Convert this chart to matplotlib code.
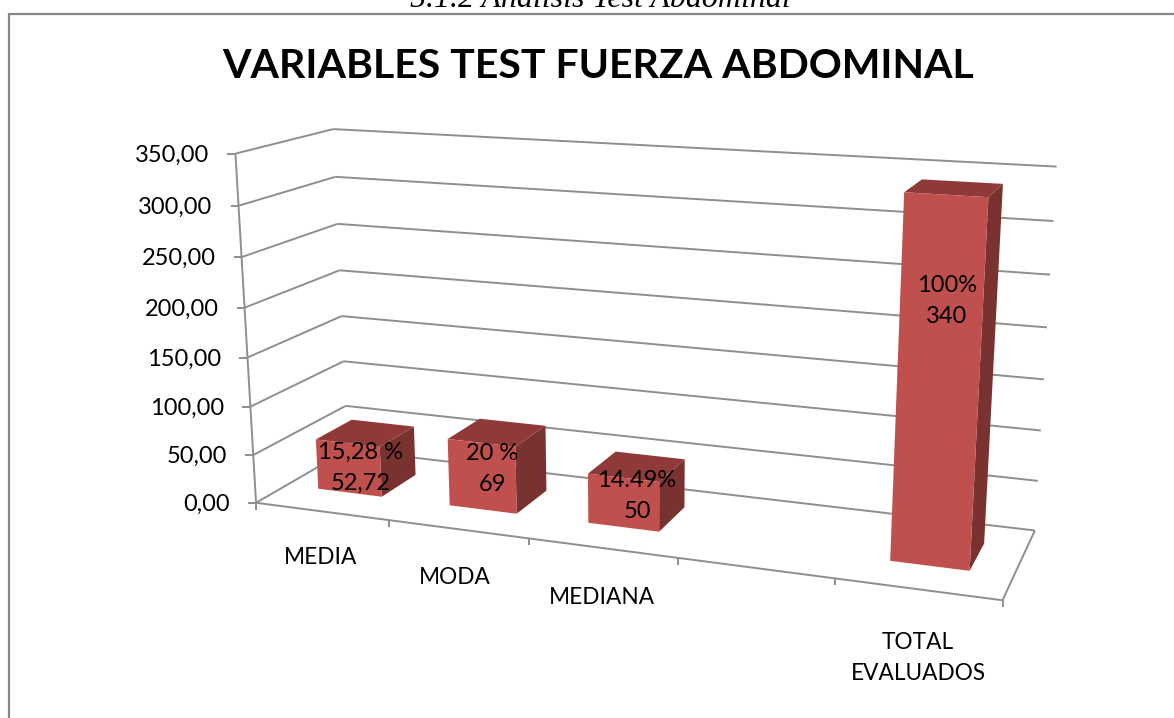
"""Perspective 3D column chart drawn on a pixel-sized 2D axes."""

import matplotlib

matplotlib.use("Agg")
import matplotlib.pyplot as plt
import numpy as np
from matplotlib.patches import Polygon, Rectangle

categories = ["MEDIA", "MODA", "MEDIANA", "", "TOTAL\nEVALUADOS"]
values = [52.72, 69, 50, None, 340]
bar_labels = ["15,28 %\n52,72", "20 %\n69", "14.49%\n50", None, "100%\n340"]
y_ticks = [0, 50, 100, 150, 200, 250, 300, 350]

W, H = 1174, 718
Y_MAX = 350.0
N_CAT = len(categories)

# camera calibration: box corners (x, y, depth in 0..1) -> picture pixels
BOX = [(0, 0, 0), (0, 1, 0), (0, 1, 1), (0, 0, 1), (1, 0, 0), (1, 0, 1), (1, 1, 1)]
PIX = [(256, 502.7), (235.7, 153.3), (333, 129.3), (347.7, 450),
       (1002.3, 600.7), (1035, 530), (1056.7, 166.7)]


def fit_camera(box, pix):
    rows = []
    for (x, y, d), (u, v) in zip(box, pix):
        rows.append([x, y, d, 1, 0, 0, 0, 0, -u * x, -u * y, -u * d, -u])
        rows.append([0, 0, 0, 0, x, y, d, 1, -v * x, -v * y, -v * d, -v])
    return np.linalg.svd(np.array(rows, float))[2][-1].reshape(3, 4)


CAM = fit_camera(BOX, PIX)


def project(cat, value, depth):
    """Category position (0..N_CAT), data value and depth (0..1) to pixels."""
    p = CAM @ np.array([cat / N_CAT, value / Y_MAX, depth, 1.0])
    return p[0] / p[2], p[1] / p[2]


BAR_MID = 0.49
BAR_HALF = 0.245
BAR_D0, BAR_D1 = 0.32, 0.72
GRID = "#8e8e8e"
FRONT, TOP, SIDE = "#C0504D", "#8F3A38", "#7A3230"

plt.rcParams["font.family"] = ["Lato", "DejaVu Sans"]
fig = plt.figure(figsize=(W / 100, H / 100), dpi=100)
ax = fig.add_axes([0, 0, 1, 1])
ax.set_xlim(0, W)
ax.set_ylim(H, 0)
ax.axis("off")

# frame runs off the right and bottom of the picture
ax.add_patch(Rectangle((8.5, 13.5), 1200, 720, fc="white", ec="#868686", lw=1.6, clip_on=True))
ax.text(600, 7, "5.1.2 Análisis Test Abdominal", family="Liberation Serif", style="italic",
        fontsize=23, ha="center", va="baseline", clip_on=True)
ax.text(598, 66, "VARIABLES TEST FUERZA ABDOMINAL", fontsize=29.5, fontweight="bold",
        ha="center", va="center")


def seg(a, b):
    ax.plot(*zip(a, b), color=GRID, lw=1.4, solid_capstyle="butt", zorder=2)


# walls, gridlines and y ticks
for t in y_ticks:
    front = project(0, t, 0)
    back = project(0, t, 1)
    seg(front, back)
    seg(back, project(N_CAT, t, 1))
    seg((front[0] - 8, front[1]), front)
    ax.text(front[0] - 26, front[1] + 1.5, f"{t:.2f}".replace(".", ","), fontsize=17,
            ha="right", va="center")
seg(project(0, 0, 0), project(0, Y_MAX, 0))

# floor and category ticks
seg(project(0, 0, 0), project(N_CAT, 0, 0))
seg(project(N_CAT, 0, 0), project(N_CAT, 0, 1))
for i in range(N_CAT + 1):
    u, v = project(i, 0, 0)
    seg((u, v), (u, v + 7))

label_xy = [(321, 558), (455, 577), (602, 597), None, (918, 658)]
for name, xy in zip(categories, label_xy):
    if xy:
        ax.text(xy[0], xy[1], name, fontsize=16.3, ha="center", va="center", linespacing=1.6)


def bar(i, value):
    x0, x1 = i + BAR_MID - BAR_HALF, i + BAR_MID + BAR_HALF
    fb0, fb1 = project(x0, 0, BAR_D0), project(x1, 0, BAR_D0)
    ft0, ft1 = project(x0, value, BAR_D0), project(x1, value, BAR_D0)
    bb1 = project(x1, 0, BAR_D1)
    bt0, bt1 = project(x0, value, BAR_D1), project(x1, value, BAR_D1)
    ax.add_patch(Polygon([fb1, ft1, bt1, bb1], fc=SIDE, ec="none", zorder=3))
    ax.add_patch(Polygon([ft0, ft1, bt1, bt0], fc=TOP, ec="none", zorder=3))
    ax.add_patch(Polygon([fb0, fb1, ft1, ft0], fc=FRONT, ec="none", zorder=3))


for i, value in enumerate(values):
    if value is not None:
        bar(i, value)

label_pos = [(361, 468), (492, 469), (637, 496), None, (947, 301)]
for text, xy in zip(bar_labels, label_pos):
    if text:
        ax.text(xy[0], xy[1], text, fontsize=17, ha="center", va="center", linespacing=1.6, zorder=4)

fig.savefig("out.png", dpi=100)
